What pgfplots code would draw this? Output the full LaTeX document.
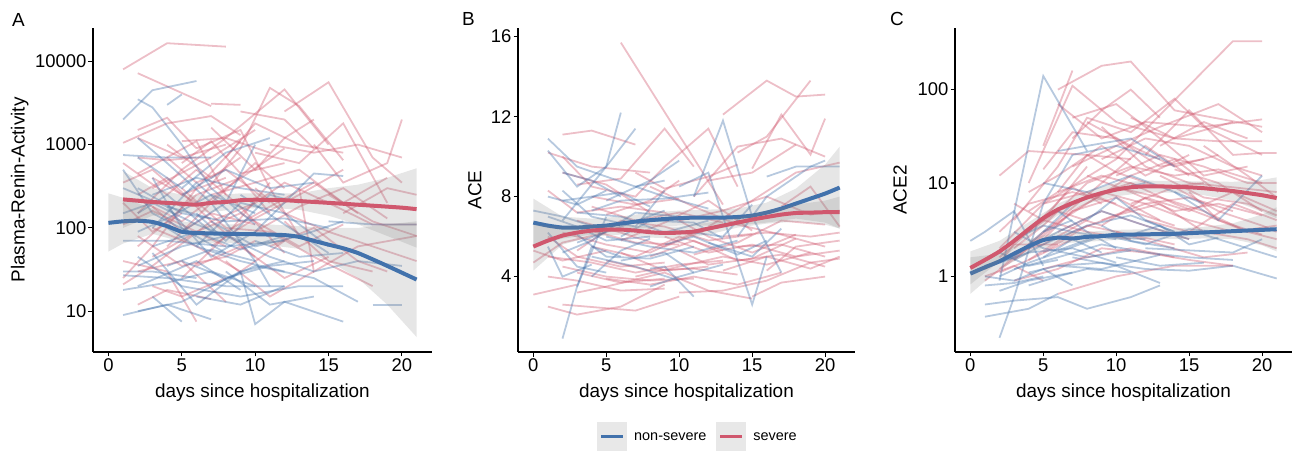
\documentclass[border=0pt]{standalone}
\usepackage{pgfplots}
\pgfplotsset{compat=1.18}
\usepackage{fontspec}
\setmainfont{Liberation Sans}
\definecolor{blu}{RGB}{66,114,172}
\definecolor{rd}{RGB}{208,88,110}
\definecolor{legbg}{RGB}{232,232,232}
\newcommand{\ticksize}{\fontsize{18.5}{20}\selectfont}
\newcommand{\labsize}{\fontsize{19}{21}\selectfont}
\newcommand{\R}[1]{\addplot[rl] coordinates {#1};}
\newcommand{\B}[1]{\addplot[bl] coordinates {#1};}
\pgfplotsset{
  rl/.style={rd, line width=1.8bp, draw opacity=0.38},
  bl/.style={blu, line width=1.8bp, draw opacity=0.38},
  band/.style={fill=gray, fill opacity=0.2, draw=none},
  smr/.style={rd, line width=4bp, smooth, tension=0.4},
  smb/.style={blu, line width=4bp, smooth, tension=0.4},
  panel/.style={
    scale only axis, height=324bp,
    axis lines*=left, axis line style={-, line width=1.1bp, black},
    tick align=outside, major tick length=4.5bp,
    tick style={line width=1.1bp, black},
    xmin=-1.05, xmax=22.05, xtick={0,5,10,15,20},
    xminorticks=false, yminorticks=false,
    tick label style={font=\ticksize, black, inner sep=2bp},
    /pgf/number format/assume math mode=true,
    every axis x label/.style={at={(axis description cs:0.5,-0.139)}, anchor=base, font=\labsize},
    xlabel={days since hospitalization},
  }
}
\begin{document}
\begin{tikzpicture}
\path[use as bounding box] (0bp,0bp) rectangle (1304bp,451bp);
\node[anchor=base west, font=\labsize, inner sep=0] at (12bp,424bp) {A};
\node[anchor=base west, font=\labsize, inner sep=0] at (462bp,425bp) {B};
\node[anchor=base west, font=\labsize, inner sep=0] at (890bp,425bp) {C};
% ---------------- Panel A ----------------
\begin{axis}[panel, at={(93bp,99bp)}, anchor=south west, width=339bp,
  ymode=log, ymin=3.24, ymax=25119,
  ytick={10,100,1000,10000}, yticklabels={10,100,1000,10000},
  ylabel={Plasma-Renin-Activity},
  every axis y label/.style={at={(axis description cs:-0.216,0.5)}, rotate=90, anchor=center, font=\labsize}]
\R{(1,8000)(4,16500)(8,15000)}
\R{(2,7200)(7,2900)}
\R{(7,3100)(9,3000)}
\R{(1,1050)(4,1800)(7,2200)(9,1300)}
\R{(2,1500)(4,2100)(6,900)}
\R{(1,25)(3,60)(6,300)(9,1100)}
\R{(2,700)(4,650)(6,700)}
\R{(2,150)(5,500)(8,1200)(11,800)}
\R{(3,400)(6,200)(9,900)(11,4800)(13,2900)(16,650)}
\R{(5,1100)(8,1200)(12,4600)(15,1000)}
\R{(7,1600)(10,500)(12,1200)(14,2000)}
\R{(12,2500)(15,5600)(18,700)(20,350)}
\R{(10,800)(13,600)(16,1800)(19,200)}
\R{(11,1000)(14,800)(17,1000)(20,700)}
\R{(14,1000)(16,350)(19,600)(20,2000)}
\R{(13,300)(14,30)(17,60)(21,80)}
\R{(1,40)(4,30)(6,7.5)}
\R{(2,30)(5,40)(8,13)}
\R{(1,21)(3,35)(7,120)(10,200)}
\R{(3,100)(6,60)(9,30)(12,70)}
\R{(2,250)(4,400)(7,120)(10,45)}
\R{(4,60)(7,200)(10,600)(12,300)}
\R{(5,300)(8,100)(11,90)(14,45)(18,20)}
\R{(6,500)(9,180)(12,50)}
\R{(8,40)(11,15)(14,30)}
\R{(3,20)(5,15)(8,25)}
\R{(2,12)(4,18)(7,14)}
\R{(9,150)(12,350)(15,200)(18,110)(21,110)}
\R{(15,250)(18,120)(21,80)}
\R{(10,90)(13,180)(16,300)(19,130)}
\R{(6,900)(9,1500)(11,300)(13,80)}
\R{(4,1000)(7,400)(9,700)}
\R{(1,200)(3,90)(5,150)}
\R{(2,80)(5,35)(8,45)(10,70)}
\R{(3,300)(7,700)(10,1500)}
\R{(12,120)(15,40)(18,30)}
\R{(7,60)(10,130)(13,250)(16,500)}
\R{(5,25)(8,80)(11,350)}
\R{(9,2500)(12,2000)(14,900)}
\R{(2,450)(6,1100)(8,250)}
\R{(16,150)(19,300)(21,250)}
\R{(11,60)(14,100)(17,40)(19,30)}
\R{(1,600)(4,250)(6,500)}
\R{(8,700)(10,1800)(13,1000)(16,800)}
\R{(1,350)(3,500)(5,250)(8,400)}
\R{(2,60)(4,120)(6,250)(9,400)(11,150)}
\R{(3,180)(5,90)(7,150)(10,110)}
\R{(4,700)(6,350)(8,500)(11,200)}
\R{(1,110)(3,160)(6,90)(8,60)}
\R{(2,220)(5,120)(8,300)(12,900)}
\R{(6,35)(9,60)(12,25)(15,45)}
\R{(5,600)(7,1100)(9,450)(12,600)}
\R{(3,45)(6,90)(9,150)(13,60)(16,110)}
\R{(10,300)(12,150)(15,90)(18,60)(21,40)}
\R{(8,90)(11,180)(14,350)(17,150)}
\R{(2,1200)(5,700)(8,1000)}
\R{(7,250)(10,350)(13,500)(16,200)(19,400)}
\B{(2,3500)(3,2800)(5,1000)(7,300)(10,110)}
\B{(1,2000)(3,4500)(6,5800)}
\B{(4,3000)(5,4000)}
\B{(2,1200)(4,600)(7,200)(10,40)(11,20)}
\B{(1,750)(4,700)(7,700)}
\B{(2,700)(5,300)(8,800)(11,1200)}
\B{(1,70)(4,70)(8,60)(12,70)}
\B{(2,300)(5,150)(8,120)(12,130)(15,100)}
\B{(1,30)(3,30)(6,25)}
\B{(1,27)(4,25)(8,20)(12,20)}
\B{(2,45)(5,20)(9,15)(13,20)(16,20)}
\B{(1,9)(4,12)(7,8)}
\B{(2,10)(5,13)(9,30)(10,7)(12,13)(16,7.5)}
\B{(3,15)(5,7.5)}
\B{(3,50)(6,12)(9,30)(12,40)}
\B{(4,180)(7,45)(10,90)(14,450)(16,420)}
\B{(5,250)(8,500)(11,300)(14,350)}
\B{(2,150)(4,250)(7,90)}
\B{(6,60)(9,200)(12,150)(15,60)}
\B{(3,100)(6,350)(9,120)}
\B{(1,500)(3,150)(6,80)}
\B{(7,20)(10,35)(14,25)(17,13)}
\B{(18,12)(20,12)}
\B{(8,30)(11,12)(14,15)}
\B{(4,35)(7,55)(10,40)}
\B{(9,250)(12,110)(15,50)}
\B{(10,70)(13,45)(16,50)}
\B{(15,120)(18,110)(21,110)}
\B{(5,90)(8,200)(10,1000)}
\B{(2,20)(6,40)(9,18)}
\B{(6,150)(8,70)(11,250)(13,200)}
\B{(3,400)(5,100)(8,50)}
\B{(1,150)(3,200)(6,110)(9,70)}
\B{(2,90)(4,130)(7,250)(10,150)}
\B{(3,60)(6,90)(9,55)(12,80)}
\B{(1,300)(4,180)(7,130)}
\B{(4,100)(6,60)(9,40)(12,30)}
\B{(2,35)(5,60)(8,80)(11,45)}
\B{(5,40)(8,25)(11,35)(14,40)}
\B{(3,250)(6,400)(9,300)(12,250)}
\B{(7,120)(10,60)(13,80)(16,120)}
\B{(1,18)(4,22)(7,30)(10,20)}
\B{(6,15)(9,12)(12,20)}
\B{(11,45)(14,30)(17,40)(20,35)}
% bands and smooths
\addplot[band] coordinates {(0,260)(1,230)(3,170)(5,120)(7,110)(9,110)(11,110)(13,105)(15,100)(17,100)(19,110)(21,120)
  (21,4.9)(19,12)(17,25)(15,40)(13,56)(11,62)(9,66)(7,65)(5,68)(3,85)(1,65)(0,52)};
\addplot[smb] coordinates {(0,115)(1,120)(2,122)(3,118)(4,105)(5,90)(6,87)(8,85)(10,84)(12,82)(13,78)(14,70)(15,63)(16,57)(17,50)(18,42)(19,35)(20,29)(21,24)};
\addplot[band] coordinates {(1,480)(3,300)(5,250)(7,245)(9,260)(11,260)(13,260)(15,300)(17,330)(19,400)(21,520)
  (21,58)(19,80)(17,110)(15,140)(13,165)(11,175)(9,170)(7,155)(5,150)(3,140)(1,100)};
\addplot[smr] coordinates {(1,220)(3,205)(5,195)(6,190)(7,200)(8,205)(9,215)(10,218)(12,215)(14,205)(16,195)(18,185)(20,175)(21,168)};
\end{axis}
% ---------------- Panel B ----------------
\begin{axis}[panel, at={(518bp,99bp)}, anchor=south west, width=337bp,
  ymin=0.23, ymax=16.43, ytick={4,8,12,16},
  ylabel={ACE},
  every axis y label/.style={at={(axis description cs:-0.128,0.5)}, rotate=90, anchor=center, font=\labsize},
  legend style={at={(axis description cs:0.534,-0.262)}, anchor=center, draw=none, fill=none,
    font=\fontsize{14.5}{16}\selectfont, legend columns=2,
    /tikz/every odd column/.append style={column sep=5bp},
    /tikz/every even column/.append style={column sep=8bp}},
  legend cell align=left,
  legend image code/.code={
    \fill[legbg] (0bp,-13.5bp) rectangle (27bp,13.5bp);
    \draw[line width=3bp] (2.5bp,0bp) -- (24.5bp,0bp);}]
\addlegendimage{blu, line width=3bp}
\addlegendentry{non-severe}
\addlegendimage{rd, line width=3bp}
\addlegendentry{severe}
\R{(6,15.7)(13,7.6)}
\R{(2,11.1)(4,11.3)(7,10.6)}
\R{(1,10.2)(4,9.5)(8,9.2)}
\R{(2,10.0)(4,8.5)(7,8.0)(9,9.5)(12,11.4)(14,8.5)}
\R{(3,8.6)(6,8.9)(9,11.4)(11,9.5)}
\R{(0,3.1)(3,3.6)}
\R{(1,2.5)(3,2.1)(6,2.5)(9,3.6)}
\R{(2,2.6)(7,2.3)(10,3.0)}
\R{(3,3.2)(5,3.5)(9,4.2)(12,3.3)(15,2.9)}
\R{(13,12.1)(16,13.8)(18,13.0)(20,13.1)}
\R{(15,9.4)(17,12.1)(19,10.1)(20,11.9)}
\R{(14,10.2)(16,11.0)(19,13.8)}
\R{(11,8.0)(14,10.5)(17,10.9)(20,10.0)}
\R{(12,6.5)(15,7.8)(18,9.2)(21,9.7)}
\R{(16,4.3)(18,5.5)(21,5.8)}
\R{(15,3.0)(17,3.7)(20,4.0)}
\R{(10,3.2)(13,3.3)(16,3.8)(19,4.7)(21,4.9)}
\R{(5,4.8)(8,4.3)(11,4.4)(14,4.1)}
\R{(4,5.5)(7,5.0)(10,6.0)(13,5.3)}
\R{(1,6.0)(3,5.0)(6,4.5)(9,4.7)}
\R{(2,4.5)(5,4.0)(8,3.8)(11,3.9)}
\R{(3,6.8)(6,6.2)(9,5.5)(12,6.4)}
\R{(4,7.5)(7,6.8)(10,7.2)(13,6.7)}
\R{(6,5.8)(9,6.7)(12,7.8)(15,6.3)}
\R{(7,4.0)(10,4.5)(13,5.0)(16,4.6)(19,5.2)}
\R{(8,8.5)(11,7.5)(14,6.6)(17,6.1)(20,5.5)}
\R{(9,6.0)(12,5.2)(15,5.6)(18,5.0)(21,5.3)}
\R{(11,5.1)(14,5.7)(17,6.8)(20,6.6)}
\R{(0,5.3)(2,4.8)(5,5.3)}
\R{(1,8.3)(3,7.2)(6,7.5)}
\R{(5,7.1)(8,7.8)(10,8.8)}
\R{(13,4.3)(16,5.0)(19,4.4)(21,5.0)}
\R{(17,7.5)(19,8.5)(21,6.5)}
\R{(3,4.2)(6,3.7)(9,3.9)}
\R{(2,9.2)(5,8.6)(8,7.2)}
\R{(10,5.3)(12,4.6)(15,4.9)(18,5.9)}
\R{(14,5.5)(17,5.6)(20,5.0)}
\R{(6,5.2)(9,4.3)(12,4.5)}
\R{(4,6.3)(7,5.7)(10,5.6)}
\R{(12,8.8)(15,9.2)(18,10.6)}
\R{(1,5.0)(4,4.7)(7,4.2)(10,4.6)(13,4.8)}
\R{(2,6.2)(5,5.6)(8,5.2)(11,6.2)}
\R{(3,5.3)(6,6.8)(9,6.5)(12,5.8)(15,6.1)}
\R{(0,4.7)(2,5.7)(5,6.2)}
\R{(5,3.9)(8,3.6)(11,4.0)(14,3.6)(17,4.2)}
\R{(6,7.5)(9,7.2)(12,6.0)(15,5.2)(18,6.1)}
\R{(8,5.0)(11,5.8)(14,4.8)(17,5.1)(20,4.5)}
\R{(1,4.0)(3,3.8)(6,3.3)(9,3.4)}
\R{(10,6.8)(13,7.3)(16,8.0)(19,7.1)(21,7.3)}
\R{(4,8.0)(7,7.6)(10,7.9)}
\R{(13,6.0)(16,6.2)(19,6.0)(21,6.2)}
\R{(7,9.2)(9,8.4)(12,9.0)(14,9.6)}
\B{(1,10.9)(3,9.5)(5,9.0)(7,8.5)(9,8.8)}
\B{(1,10.3)(3,8.5)(5,9.5)(6,12.2)}
\B{(2,6.8)(5,9.5)(7,11.4)}
\B{(2,0.9)(3,3.5)(5,7.0)}
\B{(3,3.5)(4,5.5)(6,5.0)}
\B{(1,6.2)(3,4.5)(5,4.2)}
\B{(2,7.8)(4,8.0)(6,8.2)(8,7.5)}
\B{(2,8.3)(4,7.0)(7,6.5)(9,8.3)}
\B{(11,8.0)(13,11.8)(15,7.0)(17,4.2)}
\B{(8,4.4)(9,4.5)(11,3.0)}
\B{(10,8.5)(12,9.2)(15,2.6)(16,5.0)}
\B{(14,6.0)(16,8.0)(19,9.5)(20,9.8)}
\B{(16,9.0)(18,9.5)(21,9.5)}
\B{(3,7.2)(6,7.0)(9,6.2)(12,6.8)}
\B{(4,5.0)(7,4.5)(10,3.8)}
\B{(5,6.0)(8,5.5)(11,5.2)(14,5.8)}
\B{(6,4.8)(9,5.2)(11,4.2)}
\B{(1,5.5)(2,4.0)(4,4.6)}
\B{(7,8.5)(9,8.0)(12,7.4)}
\B{(0,7.3)(2,7.0)(5,6.3)}
\B{(8,3.5)(10,4.0)(13,4.6)}
\B{(12,5.7)(15,5.0)(17,6.4)}
\B{(5,7.8)(8,8.8)(10,9.8)}
\B{(3,5.7)(6,6.5)(9,7.3)}
\B{(10,6.3)(13,6.0)(15,7.6)}
\B{(2,9.2)(4,8.8)(6,8.0)}
\B{(4,4.0)(6,5.3)(8,5.9)}
\B{(1,7.0)(3,6.5)(5,5.8)(8,6.0)}
\B{(2,5.2)(4,5.8)(7,7.2)(10,7.0)}
\B{(3,6.1)(5,5.0)(8,4.9)(11,5.5)}
\B{(4,7.3)(6,7.8)(9,7.9)(12,8.2)}
\B{(6,6.0)(8,6.8)(11,6.7)(13,5.9)}
\B{(1,8.0)(3,7.6)(5,8.3)}
\B{(9,5.6)(11,6.0)(14,5.1)(16,5.8)}
\addplot[band] coordinates {(0,7.9)(2,7.0)(4,6.9)(6,7.0)(8,7.2)(10,7.3)(12,7.35)(14,7.4)(16,7.7)(18,8.4)(20,9.6)(21,10.5)
  (21,6.4)(20,6.7)(18,6.9)(16,6.7)(14,6.55)(12,6.55)(10,6.55)(8,6.45)(6,6.3)(4,6.1)(2,5.9)(0,5.5)};
\addplot[smb] coordinates {(0,6.7)(1,6.55)(2,6.45)(3,6.45)(4,6.5)(5,6.55)(6,6.65)(7,6.75)(8,6.82)(9,6.88)(10,6.92)(11,6.95)(12,6.95)(13,6.95)(14,6.98)(15,7.05)(16,7.2)(17,7.4)(18,7.65)(19,7.9)(20,8.15)(21,8.45)};
\addplot[band] coordinates {(0,6.6)(2,6.5)(4,6.6)(6,6.6)(8,6.5)(10,6.5)(12,6.7)(14,6.95)(16,7.3)(18,7.6)(20,7.8)(21,8.0)
  (21,6.4)(20,6.6)(18,6.75)(16,6.65)(14,6.45)(12,6.1)(10,5.9)(8,5.95)(6,6.1)(4,6.0)(2,5.6)(0,4.3)};
\addplot[smr] coordinates {(0,5.5)(1,5.8)(2,6.05)(3,6.2)(4,6.3)(5,6.35)(6,6.35)(7,6.3)(8,6.22)(9,6.18)(10,6.2)(11,6.25)(12,6.4)(13,6.55)(14,6.7)(15,6.85)(16,6.98)(17,7.1)(18,7.18)(19,7.2)(20,7.22)(21,7.22)};
\end{axis}
% ---------------- Panel C ----------------
\begin{axis}[panel, at={(955bp,99bp)}, anchor=south west, width=337bp,
  ymode=log, ymin=0.155, ymax=457,
  ytick={1,10,100}, yticklabels={1,10,100},
  ylabel={ACE2},
  every axis y label/.style={at={(axis description cs:-0.163,0.5)}, rotate=90, anchor=center, font=\labsize}]
\R{(5,6)(10,18)(18,330)(20,330)}
\R{(5,25)(7,160)}
\R{(6,100)(9,180)(11,200)(14,60)(20,40)}
\R{(4,10)(7,110)(10,45)(14,30)(18,45)}
\R{(6,70)(9,30)(12,45)(16,40)(20,48)}
\R{(2,12)(4,22)(8,20)(11,18)}
\R{(3,4)(6,15)(8,50)(11,35)(14,80)(16,40)(20,20)}
\R{(7,15)(10,25)(13,40)(17,70)(20,35)}
\R{(3,1.5)(6,4)(9,10)(12,25)(15,12)}
\R{(2,1.2)(5,3)(8,6)(11,12)(14,18)(17,8)}
\R{(1,0.9)(4,2)(7,5)(10,9)(13,7)(16,5)(19,3)}
\R{(2,2)(5,6)(8,8)(11,5)(14,3.5)}
\R{(4,1.5)(7,3)(10,4.5)(13,6)(16,3)(19,2.5)(21,2)}
\R{(6,0.65)(10,1)(14,1.3)(18,1.3)}
\R{(3,0.9)(6,1.2)(9,2)(12,1.8)(15,1.5)(18,1.3)}
\R{(5,1.8)(8,3.5)(11,2.8)(14,2.2)}
\R{(9,40)(12,15)(15,10)(18,9)(21,8)}
\R{(12,20)(15,60)(18,20)(20,21)(21,21)}
\R{(13,25)(16,45)(19,30)}
\R{(10,12)(13,20)(16,15)(19,10)(21,10)}
\R{(15,8)(17,4)(19,3)(21,2.5)}
\R{(14,14)(17,10)(20,5)}
\R{(11,6)(14,9)(17,5)(20,3.5)(21,3)}
\R{(16,25)(19,12)(21,7)}
\R{(8,45)(11,25)(14,15)(17,20)}
\R{(2,1.1)(4,1.5)(7,2.5)}
\R{(1,1.0)(3,1.3)(5,0.9)}
\R{(4,5)(6,8)(9,12)(12,9)}
\R{(5,2.5)(7,5)(10,7)(13,4)}
\R{(3,2.5)(5,4)(8,3)(11,2.5)}
\R{(7,30)(9,60)(11,100)(13,50)}
\R{(8,7)(11,10)(14,6)(17,4)(20,2.8)}
\R{(6,3)(9,5)(12,3.5)(15,2.5)}
\R{(10,3)(13,2.2)(16,1.6)(19,1.8)}
\R{(2,1.4)(3,2.2)(6,2.2)}
\R{(9,18)(12,30)(15,25)(18,15)(20,12)}
\R{(6,8)(8,20)(10,13)(13,9)(16,10)}
\R{(11,50)(14,30)(17,28)(20,28)}
\R{(4,3)(7,9)(9,6)}
\R{(12,4)(15,3)(18,6)(21,4)}
\R{(13,12)(16,7)(19,6)(21,4.5)}
\R{(3,6)(5,4)(8,15)}
\R{(2,1.6)(4,3)(6,5)(9,8)(12,6)(15,7)(18,5)}
\R{(3,2)(5,3.5)(8,10)(11,15)(14,12)(17,14)(20,10)}
\R{(4,8)(6,12)(9,25)(12,12)(15,20)}
\R{(5,14)(7,35)(10,30)(13,15)(16,18)}
\R{(1,1.2)(3,1.8)(5,2.2)(8,4)}
\R{(6,5)(9,3.5)(12,7)(15,5)(18,8)(21,5)}
\R{(7,50)(10,70)(13,30)(16,12)(19,15)}
\R{(8,12)(11,8)(14,5)(17,6)(20,4.5)}
\R{(2,3)(4,6)(7,8)(10,6)}
\R{(9,4)(12,6)(15,4)(18,3)(21,3.5)}
\R{(5,1.2)(8,1.6)(11,2)(14,1.6)}
\B{(2,0.9)(5,140)(8,22)}
\B{(0,2.4)(1,3)(3,5)(5,1.3)}
\B{(2,0.22)(3,0.6)(5,6)(7,20)}
\B{(1,0.5)(3,0.55)(6,0.6)(8,0.45)(11,0.6)(13,0.8)}
\B{(1,0.37)(4,0.45)(6,0.65)}
\B{(1,1.0)(3,0.9)(5,1.2)(7,0.8)}
\B{(6,22)(8,25)(11,30)(14,15)}
\B{(7,20)(10,25)(13,18)}
\B{(5,10)(8,8)(11,12)(14,8)(16,6)}
\B{(4,2)(6,3)(9,5)(12,3.5)(15,2.5)}
\B{(3,1.2)(6,1.6)(9,2.2)(12,1.8)(15,1.6)(18,1.5)}
\B{(6,1.3)(9,1.4)(12,1.2)(15,1.15)(18,1.3)(21,0.95)}
\B{(2,1.4)(4,1.8)(7,2)(10,1.4)}
\B{(3,2.5)(5,3.5)(7,3)(10,2.5)}
\B{(8,4)(10,7)(12,4)(14,3)}
\B{(12,2)(15,1.9)(18,1.8)(20,2.5)}
\B{(14,8)(17,4)(20,12)}
\B{(10,1.6)(13,1.3)(16,1.4)}
\B{(4,1.1)(6,1.3)(9,1.2)(13,1.7)}
\B{(5,1.6)(7,2.5)(9,1.8)}
\B{(1,0.8)(3,0.85)(5,1.0)}
\B{(11,2.8)(13,3.5)(15,2.2)(17,2.6)}
\B{(9,3.5)(11,2.4)(14,2.0)}
\B{(7,1.6)(10,1.3)(13,0.85)}
\B{(2,1.8)(4,1.3)(6,1.5)}
\B{(3,3)(5,2)(8,1.6)(11,1.9)}
\B{(16,2.8)(19,2.0)(21,1.6)}
\B{(6,5)(8,3)(10,2)}
\B{(2,1)(4,1.4)(6,1.8)(9,2.7)(12,2.5)}
\B{(3,1.5)(5,2.2)(8,3.5)(11,4.5)(14,3)}
\B{(1,1.3)(3,1.6)(5,3)(7,4)}
\B{(4,0.8)(6,1)(8,1.2)(11,1.1)}
\B{(5,3)(7,6)(9,8)(12,10)}
\B{(6,1.9)(9,2.8)(12,2.2)(15,3.2)(17,3)}
\B{(2,0.7)(4,0.9)(7,1.1)}
\addplot[band] coordinates {(0,1.6)(2,1.75)(4,2.5)(6,3.0)(8,3.0)(10,3.15)(12,3.2)(14,3.25)(16,3.4)(18,3.7)(20,4.6)(21,5.5)
  (21,1.85)(20,2.15)(18,2.5)(16,2.55)(14,2.5)(12,2.5)(10,2.45)(8,2.35)(6,2.25)(4,1.75)(2,1.2)(0,0.65)};
\addplot[smb] coordinates {(0,1.07)(1,1.25)(2,1.45)(3,1.75)(4,2.1)(5,2.45)(6,2.6)(7,2.55)(8,2.65)(9,2.7)(10,2.78)(12,2.82)(14,2.86)(16,2.95)(18,3.05)(20,3.15)(21,3.2)};
\addplot[band] coordinates {(0,1.85)(2,2.4)(4,3.8)(6,6.0)(8,8.2)(10,10.0)(12,10.6)(14,10.5)(16,10.4)(18,10.3)(20,10.8)(21,11.5)
  (21,4.2)(20,4.9)(18,6.5)(16,7.4)(14,7.9)(12,7.9)(10,7.2)(8,6.0)(6,4.5)(4,2.7)(2,1.45)(0,0.82)};
\addplot[smr] coordinates {(0,1.23)(1,1.5)(2,1.85)(3,2.4)(4,3.2)(5,4.2)(6,5.2)(7,6.1)(8,7.0)(9,7.8)(10,8.5)(11,9.0)(12,9.2)(13,9.2)(14,9.1)(15,9.0)(16,8.8)(17,8.5)(18,8.2)(19,7.8)(20,7.4)(21,6.9)};
\end{axis}
\end{tikzpicture}
\end{document}
